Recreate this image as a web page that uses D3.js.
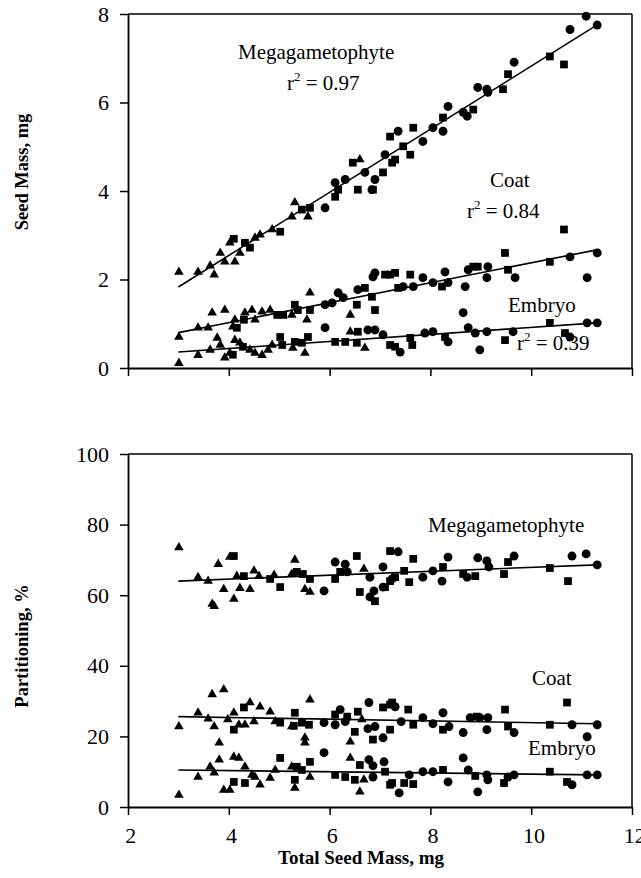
<!DOCTYPE html>
<html>
<head>
<meta charset="utf-8">
<script src="https://cdn.jsdelivr.net/npm/d3@7"></script>
<style>
  html, body { margin: 0; padding: 0; background: #fff; }
  svg { display: block; }
  text { font-family: "Liberation Serif", "Times New Roman", serif; fill: #000; }
</style>
</head>
<body>
<svg id="chart" width="641" height="878"></svg>
<script>
// ---------------- data ----------------
const xTicks = [2, 4, 6, 8, 10, 12];
const massTicks = [0, 2, 4, 6, 8];
const partTicks = [0, 20, 40, 60, 80, 100];
const xTitle = "Total Seed Mass, mg";
const massTitle = "Seed Mass, mg";
const partTitle = "Partitioning, %";
const components = ["Megagametophyte", "Coat", "Embryo"];
const massR2 = ["0.97", "0.84", "0.39"];

// [total seed mass, value, marker] ; t = triangle, s = square, c = circle
const megaMass = [[3.01,2.17,"t"],[3.39,2.17,"t"],[3.63,2.31,"t"],[3.71,2.11,"t"],[3.83,2.60,"t"],[3.92,2.40,"t"],[4.02,2.83,"t"],[4.12,2.40,"t"],[4.10,2.92,"s"],[4.22,2.60,"t"],[4.32,2.83,"s"],[4.42,2.72,"s"],[4.52,2.94,"t"],[4.62,3.01,"t"],[4.86,3.13,"t"],[5.02,3.08,"s"],[5.25,3.42,"t"],[5.31,3.74,"t"],[5.45,3.58,"s"],[5.57,3.42,"t"],[5.61,3.62,"s"],[5.91,3.62,"c"],[6.11,3.87,"s"],[6.11,4.19,"c"],[6.17,4.03,"s"],[6.31,4.26,"c"],[6.46,4.64,"s"],[6.60,4.71,"t"],[6.56,4.03,"s"],[6.70,4.42,"c"],[6.84,4.03,"c"],[6.90,4.26,"c"],[7.10,4.82,"c"],[7.20,5.23,"s"],[7.36,5.35,"c"],[7.24,4.64,"s"],[7.06,4.42,"s"],[6.86,4.03,"s"],[7.30,4.71,"s"],[7.46,5.01,"s"],[7.60,4.82,"s"],[7.66,5.43,"s"],[7.85,5.12,"c"],[8.05,5.43,"c"],[8.25,5.66,"s"],[8.25,5.35,"c"],[8.35,5.91,"c"],[8.65,5.78,"c"],[8.73,5.69,"c"],[8.85,5.84,"s"],[8.94,6.34,"c"],[9.12,6.30,"c"],[9.14,6.23,"c"],[9.44,6.30,"s"],[9.54,6.64,"s"],[9.66,6.91,"c"],[10.37,7.04,"s"],[10.65,6.86,"s"],[10.77,7.65,"c"],[11.09,7.95,"c"],[11.31,7.75,"c"]];
const coatMass = [[3.01,0.70,"t"],[3.39,0.91,"t"],[3.59,0.91,"t"],[3.67,1.25,"t"],[3.92,1.31,"t"],[4.08,0.93,"t"],[4.12,1.09,"t"],[4.16,0.91,"s"],[4.32,1.25,"t"],[4.30,1.09,"s"],[4.46,1.31,"t"],[4.52,1.09,"t"],[4.66,1.27,"t"],[4.82,1.31,"t"],[4.96,1.20,"s"],[5.08,1.20,"s"],[5.25,1.20,"t"],[5.31,1.43,"s"],[5.37,1.31,"s"],[5.55,1.09,"t"],[5.61,1.31,"s"],[5.61,1.70,"t"],[5.91,1.43,"c"],[6.05,1.47,"c"],[6.17,1.70,"c"],[6.27,1.59,"c"],[6.54,1.43,"s"],[6.41,1.20,"t"],[6.56,1.77,"c"],[6.70,1.81,"s"],[6.86,2.06,"c"],[6.84,1.61,"s"],[6.90,1.31,"s"],[6.90,2.15,"c"],[7.10,2.11,"s"],[7.20,2.11,"s"],[7.30,2.15,"s"],[7.36,1.81,"s"],[7.60,2.11,"s"],[7.46,1.84,"c"],[7.66,1.84,"c"],[7.85,2.04,"c"],[8.05,1.93,"c"],[8.23,1.84,"s"],[8.29,2.17,"c"],[8.35,1.93,"c"],[8.69,1.84,"c"],[8.75,2.22,"c"],[8.85,2.29,"s"],[8.94,2.29,"s"],[9.14,2.29,"c"],[9.12,2.04,"c"],[9.48,2.60,"s"],[9.54,2.22,"s"],[9.68,2.04,"c"],[10.37,2.40,"s"],[10.65,3.13,"s"],[10.77,2.51,"c"],[11.11,2.04,"c"],[11.31,2.60,"c"]];
const embryoMass = [[3.01,0.11,"t"],[3.39,0.29,"t"],[3.63,0.41,"t"],[3.77,0.68,"t"],[3.83,0.52,"t"],[3.92,0.23,"t"],[4.02,0.34,"t"],[4.08,0.30,"s"],[4.12,0.63,"t"],[4.22,0.57,"t"],[4.28,0.48,"s"],[4.42,0.41,"t"],[4.52,0.34,"t"],[4.66,0.29,"t"],[4.78,0.41,"t"],[4.86,0.52,"t"],[5.02,0.70,"s"],[5.06,0.52,"s"],[5.27,0.45,"t"],[5.31,0.59,"s"],[5.45,0.57,"s"],[5.51,0.34,"t"],[5.57,0.70,"s"],[5.91,0.91,"c"],[6.11,0.59,"s"],[6.31,0.59,"s"],[6.41,0.82,"t"],[6.54,0.57,"s"],[6.56,0.82,"s"],[6.70,0.45,"t"],[6.76,0.86,"c"],[6.90,0.86,"c"],[7.06,0.75,"c"],[7.20,0.52,"s"],[7.30,0.48,"s"],[7.40,0.36,"c"],[7.60,0.68,"s"],[7.64,0.52,"s"],[7.89,0.79,"c"],[8.05,0.82,"c"],[8.29,0.70,"s"],[8.35,0.59,"c"],[8.65,1.25,"c"],[8.75,0.91,"c"],[8.89,0.79,"c"],[8.98,0.41,"c"],[9.12,0.82,"c"],[9.48,0.63,"s"],[9.64,0.82,"c"],[10.37,1.02,"s"],[10.67,0.79,"s"],[10.77,0.70,"c"],[11.11,1.02,"c"],[11.31,1.02,"c"]];

const megaPart = [[3.01,73.5,"t"],[3.39,65.1,"t"],[3.59,64.0,"t"],[3.79,68.8,"t"],[3.67,57.5,"t"],[3.71,56.9,"t"],[3.90,61.7,"t"],[4.02,70.8,"t"],[4.10,71.1,"s"],[4.10,58.9,"t"],[4.16,65.4,"t"],[4.22,62.0,"t"],[4.30,65.4,"s"],[4.42,61.7,"t"],[4.50,66.9,"t"],[4.60,65.4,"t"],[4.82,64.6,"s"],[4.90,65.7,"t"],[5.02,62.3,"s"],[5.31,70.0,"t"],[5.25,66.0,"t"],[5.35,66.6,"s"],[5.47,66.0,"s"],[5.61,64.6,"s"],[5.51,61.7,"t"],[5.61,60.9,"t"],[5.89,61.2,"c"],[6.11,69.4,"c"],[6.31,68.8,"c"],[6.21,66.6,"s"],[6.35,66.6,"c"],[6.11,64.6,"s"],[6.54,71.1,"s"],[6.68,67.4,"t"],[6.80,65.1,"c"],[7.06,68.0,"c"],[6.60,60.9,"s"],[6.80,59.5,"c"],[6.90,58.3,"s"],[6.88,61.2,"c"],[7.10,62.3,"s"],[7.20,72.5,"s"],[7.24,64.6,"c"],[7.36,72.3,"c"],[7.20,64.0,"s"],[7.06,62.3,"c"],[7.30,65.1,"s"],[7.48,66.9,"s"],[7.66,70.3,"s"],[7.58,63.7,"s"],[7.85,65.1,"c"],[8.05,66.9,"c"],[8.25,68.0,"s"],[8.35,70.8,"c"],[8.23,64.0,"c"],[8.65,66.0,"s"],[8.73,65.1,"c"],[8.89,65.4,"s"],[8.94,70.6,"c"],[9.12,69.7,"c"],[9.16,68.0,"c"],[9.46,66.0,"s"],[9.54,69.4,"s"],[9.66,71.1,"c"],[10.37,67.7,"s"],[10.73,64.0,"s"],[10.81,71.1,"c"],[11.09,71.7,"c"],[11.31,68.6,"c"]];
const coatPart = [[3.01,22.8,"t"],[3.39,26.7,"t"],[3.59,25.0,"t"],[3.71,22.8,"t"],[3.67,31.9,"t"],[3.90,33.3,"t"],[3.81,18.2,"t"],[3.98,24.8,"t"],[4.10,26.7,"t"],[4.10,21.9,"s"],[4.20,23.3,"t"],[4.32,23.3,"t"],[4.30,28.2,"s"],[4.42,29.6,"t"],[4.50,24.2,"t"],[4.62,28.4,"t"],[4.82,27.0,"t"],[4.92,24.2,"t"],[5.02,23.9,"s"],[5.25,22.8,"t"],[5.31,26.7,"s"],[5.29,23.0,"s"],[5.61,30.4,"t"],[5.45,23.9,"s"],[5.59,23.3,"s"],[5.51,19.6,"t"],[5.51,18.2,"t"],[5.89,23.9,"c"],[6.11,23.3,"c"],[6.11,26.2,"s"],[6.21,27.6,"c"],[6.31,24.2,"c"],[6.35,25.6,"s"],[6.41,18.5,"t"],[6.50,21.3,"s"],[6.56,27.0,"s"],[6.64,24.8,"t"],[6.78,29.6,"c"],[6.76,22.2,"c"],[6.86,19.1,"s"],[6.90,22.8,"c"],[7.06,19.6,"c"],[7.06,28.2,"s"],[7.20,29.0,"s"],[7.20,21.9,"s"],[7.24,29.6,"s"],[7.30,28.4,"c"],[7.42,24.2,"c"],[7.56,27.6,"s"],[7.66,23.3,"s"],[7.85,25.3,"c"],[8.05,23.6,"c"],[8.25,26.7,"c"],[8.25,21.9,"s"],[8.37,22.8,"c"],[8.65,21.1,"c"],[8.79,25.3,"c"],[8.92,25.6,"s"],[8.98,25.3,"c"],[9.14,25.3,"c"],[9.12,21.9,"c"],[9.48,27.6,"s"],[9.54,22.8,"s"],[9.66,21.1,"c"],[10.37,23.3,"s"],[10.71,29.6,"s"],[10.81,23.3,"c"],[11.11,19.9,"c"],[11.31,23.3,"c"]];
const embryoPart = [[3.01,3.4,"t"],[3.39,8.5,"t"],[3.63,11.4,"t"],[3.71,9.7,"t"],[3.81,13.4,"t"],[3.90,4.8,"t"],[4.02,4.8,"t"],[4.10,14.2,"t"],[4.20,13.9,"t"],[4.10,7.1,"s"],[4.32,11.4,"t"],[4.32,6.8,"s"],[4.46,9.1,"t"],[4.52,8.5,"t"],[4.62,6.3,"t"],[4.82,8.2,"t"],[4.92,10.5,"t"],[5.02,13.9,"s"],[5.25,11.4,"t"],[5.35,11.4,"s"],[5.45,10.5,"s"],[5.61,12.8,"s"],[5.61,8.5,"t"],[5.31,7.7,"s"],[5.31,5.4,"t"],[5.89,15.4,"c"],[6.11,9.1,"s"],[6.31,8.5,"s"],[6.41,13.9,"t"],[6.50,7.7,"s"],[6.60,4.3,"t"],[6.68,7.7,"t"],[6.60,11.9,"s"],[6.78,13.4,"c"],[6.86,11.7,"c"],[6.86,8.5,"c"],[7.10,10.0,"s"],[7.08,12.8,"c"],[7.20,6.3,"s"],[7.24,6.8,"s"],[7.38,4.0,"c"],[7.48,6.8,"s"],[7.66,6.5,"s"],[7.58,9.1,"c"],[7.85,10.0,"c"],[8.05,10.0,"c"],[8.25,10.5,"s"],[8.35,7.1,"c"],[8.65,13.9,"c"],[8.75,10.5,"c"],[8.89,8.8,"s"],[8.94,4.3,"c"],[9.12,9.1,"c"],[9.14,7.7,"c"],[9.46,6.8,"s"],[9.54,8.5,"c"],[9.66,9.1,"c"],[10.37,10.0,"s"],[10.71,7.1,"s"],[10.81,6.3,"c"],[11.11,9.1,"c"],[11.31,9.1,"c"]];

// regression line end points
const megaMassFit = [[3.0, 1.83], [11.3, 7.75]];
const coatMassFit = [[3.0, 0.80], [11.3, 2.67]];
const embryoMassFit = [[3.0, 0.36], [11.3, 1.02]];
const megaPartFit = [[3.0, 64.0], [11.3, 68.6]];
const coatPartFit = [[3.0, 25.6], [11.3, 23.6]];
const embryoPartFit = [[3.0, 10.5], [11.3, 9.1]];

// ---------------- drawing ----------------
const svg = d3.select("#chart");
const x = d3.scaleLinear().domain([2, 12]).range([128, 632]);
const yMass = d3.scaleLinear().domain([0, 8]).range([368, 14]);
const yPart = d3.scaleLinear().domain([0, 100]).range([807, 454]);

const symbolType = { t: d3.symbolTriangle, s: d3.symbolSquare, c: d3.symbolCircle };
const symbolSize = { t: 40, s: 60, c: 62 };
const sym = d3.symbol().type(d => symbolType[d[2]]).size(d => symbolSize[d[2]]);

function panel(y, yTicks, series, fits, showXLabels) {
  const g = svg.append("g");
  // frame (top and right)
  g.append("line").attr("x1", x(2)).attr("x2", x(12)).attr("y1", y.range()[1]).attr("y2", y.range()[1])
    .attr("stroke", "#000").attr("stroke-width", 1.5);
  g.append("line").attr("x1", x(12)).attr("x2", x(12)).attr("y1", y.range()[1]).attr("y2", y.range()[0])
    .attr("stroke", "#000").attr("stroke-width", 1.5);

  const yAxis = d3.axisLeft(y).tickValues(yTicks).tickSizeInner(8).tickSizeOuter(0).tickPadding(11)
    .tickFormat(d3.format("d"));
  const ya = g.append("g").attr("transform", `translate(${x(2)},0)`).call(yAxis);
  const xAxis = d3.axisBottom(x).tickValues(xTicks).tickSizeInner(8).tickSizeOuter(0).tickPadding(12)
    .tickFormat(showXLabels ? d3.format("d") : () => "");
  const xa = g.append("g").attr("transform", `translate(0,${y.range()[0]})`).call(xAxis);
  [ya, xa].forEach(a => {
    a.selectAll("path.domain").attr("stroke", "#000").attr("stroke-width", 1.8);
    a.selectAll(".tick line").attr("stroke", "#000").attr("stroke-width", 1.5);
    a.selectAll(".tick text").attr("font-family", "Liberation Serif, Times New Roman, serif")
      .attr("font-size", 22).attr("fill", "#000");
  });
  xa.selectAll(".tick text").attr("dx", "0.1em");

  // regression lines
  const line = d3.line().x(d => x(d[0])).y(d => y(d[1]));
  fits.forEach(f => {
    g.append("path").attr("d", line(f)).attr("fill", "none").attr("stroke", "#000").attr("stroke-width", 1.6);
  });
  // points
  series.forEach(s => {
    g.append("g").selectAll("path").data(s).join("path")
      .attr("transform", d => `translate(${x(d[0])},${y(d[1])})`)
      .attr("d", sym).attr("fill", "#000");
  });
  return g;
}

panel(yMass, massTicks, [megaMass, coatMass, embryoMass], [megaMassFit, coatMassFit, embryoMassFit], false);
panel(yPart, partTicks, [megaPart, coatPart, embryoPart], [megaPartFit, coatPartFit, embryoPartFit], true);

// annotation helpers
function label(txt, px, py) {
  svg.append("text").attr("x", px).attr("y", py).attr("font-size", 21).text(txt);
}
function r2(val, px, py) {
  const t = svg.append("text").attr("x", px).attr("y", py).attr("font-size", 21);
  t.append("tspan").text("r");
  t.append("tspan").attr("font-size", 13).attr("dy", -9).text("2");
  t.append("tspan").attr("dy", 9).text(" = " + val);
}

label(components[0], 238, 59);
r2(massR2[0], 287, 90);
label(components[1], 490, 187);
r2(massR2[1], 467, 218);
label(components[2], 508, 312);
r2(massR2[2], 517, 350);

label(components[0], 428, 532);
label(components[1], 532, 685);
label(components[2], 528, 755);

// axis titles
svg.append("text").attr("transform", "translate(28,172) rotate(-90)").attr("text-anchor", "middle")
  .attr("font-size", 18.5).attr("font-weight", "bold").text(massTitle);
svg.append("text").attr("transform", "translate(28,646) rotate(-90)").attr("text-anchor", "middle")
  .attr("font-size", 18.5).attr("font-weight", "bold").text(partTitle);
svg.append("text").attr("x", 361).attr("y", 864).attr("text-anchor", "middle")
  .attr("font-size", 19).attr("font-weight", "bold").text(xTitle);
</script>
</body>
</html>
